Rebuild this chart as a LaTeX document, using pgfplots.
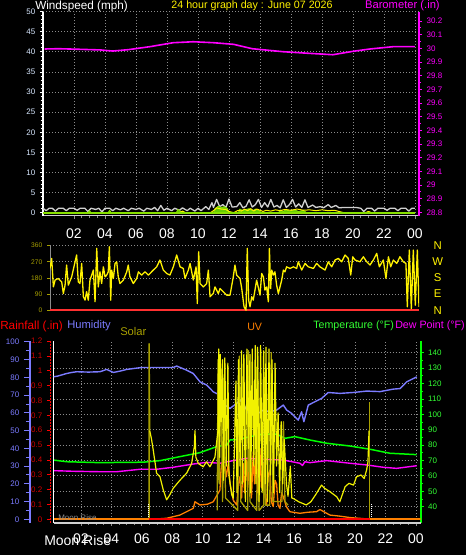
\documentclass[border=0pt]{standalone}
\usepackage{pgfplots}
\pgfplotsset{compat=1.18}
\usepackage{fontspec}
\setmainfont{Liberation Sans}
\definecolor{labblue}{HTML}{D8E8FF}
\definecolor{hum}{HTML}{7B7BFF}
\definecolor{tmp}{HTML}{00FF00}
\definecolor{tmplab}{HTML}{33FF33}
\definecolor{dew}{HTML}{FF00FF}
\definecolor{sol}{HTML}{F2F200}
\definecolor{olv}{HTML}{A8A000}
\definecolor{uv}{HTML}{FF8000}
\definecolor{rain}{HTML}{FF0000}
\definecolor{rainlab}{HTML}{D00000}
\definecolor{wwhite}{HTML}{D0D0D0}
\definecolor{wgreen}{HTML}{88E000}
\definecolor{wgfill}{HTML}{66CC00}
\definecolor{gridc}{HTML}{8C8C8C}
\definecolor{dirred}{HTML}{FF3030}
\def\P{0.75pt}
\pgfplotsset{
  base/.style={scale only axis, anchor=south west,
    /pgf/number format/assume math mode=true,
    tick label style={font=\fontsize{6}{7}\selectfont},
    tick align=outside,
    major grid style={gridc, dash pattern=on 1*\P off 2*\P, line width=0.8*\P},
    every axis plot/.append style={line join=round}},
}
\begin{document}
\begin{tikzpicture}
\fill[black] (0,0) rectangle (466*\P,555*\P);
\useasboundingbox (0,0) rectangle (466*\P,555*\P);

%================ TOP PANEL: windspeed =================
\begin{axis}[base, at={(43*\P,339.3*\P)}, width=376*\P, height=204*\P,
  xmin=0, xmax=24.26, ymin=-0.75, ymax=50,
  axis x line*=bottom, axis y line*=left,
  x axis line style={wwhite, line width=1.5*\P},
  y axis line style={white, line width=1.5*\P},
  xtick={2,4,6,8,10,12,14,16,18,20,22,24},
  xticklabels={02,04,06,08,10,12,14,16,18,20,22,00},
  ytick={0,5,...,50}, minor y tick num=4, minor x tick num=3,
  grid=major,
  xticklabel style={font=\fontsize{10.5}{12}\selectfont, white, anchor=center, yshift=-14.5*\P},
  yticklabel style={labblue},
  tick style={white, line width=0.8*\P}, major tick length=3*\P, minor tick length=2.5*\P,
  xtick style={gridc},
]
\addplot[wwhite, line width=1.3*\P] coordinates {
(0,1.1)(0.2,0.5)(0.4,1.1)(0.6,1.1)(0.8,0.4)(1.0,1.1)(1.3,1.1)(1.5,0.5)(1.7,1.1)(2.0,1.1)(2.2,0.6)(2.4,1.1)(2.7,1.1)(2.9,0.3)(3.1,1.1)(3.4,0.8)(3.6,1.1)(3.8,0.2)(4.0,1.1)(4.3,1.1)(4.5,0.5)(4.7,1.1)(5.0,0.7)(5.2,1.1)(5.5,0.5)(5.7,1.1)(6.0,0.8)(6.2,1.1)(6.5,0.4)(6.7,1.1)(7.0,0.8)(7.2,1.3)(7.4,0.5)(7.6,1.8)(7.8,0.6)(8.0,1.1)(8.3,0.5)(8.5,1.1)(8.8,0.6)(9.0,1.2)(9.3,0.5)(9.5,1.1)(9.8,0.4)(10.0,1.1)(10.2,0.5)(10.5,1.5)(10.7,0.8)(10.9,2.5)(11.0,1.3)(11.2,3.3)(11.4,1.5)(11.6,2.0)(11.8,1.3)(12.0,3.4)(12.2,1.4)(12.5,1.5)(12.7,2.5)(12.9,1.2)(13.1,1.6)(13.3,3.2)(13.5,1.4)(13.7,2.0)(13.9,3.3)(14.1,1.3)(14.3,2.5)(14.5,1.4)(14.7,3.3)(14.9,1.4)(15.1,1.8)(15.3,1.2)(15.5,3.2)(15.7,1.3)(15.9,2.0)(16.1,3.3)(16.3,1.4)(16.5,2.2)(16.7,1.3)(16.9,3.2)(17.1,1.3)(17.4,1.9)(17.6,1.3)(17.9,1.5)(18.1,1.2)(18.4,2.0)(18.6,1.3)(18.9,1.8)(19.1,1.2)(19.4,1.3)(19.8,1.3)(20.2,1.3)(20.5,1.1)(20.7,0.3)(20.9,1.1)(21.2,1.1)(21.4,0.4)(21.6,1.1)(22.0,1.1)(22.2,0.6)(22.4,1.1)(22.7,1.1)(22.9,0.5)(23.1,1.1)(23.4,1.1)(23.6,0.4)(23.8,1.1)(24,1.1)};
\addplot[wgreen, fill=wgfill, line width=0.8*\P] coordinates {
(0,0)(2.9,0)(3.0,0.5)(3.1,0)(4.2,0)(4.3,0.6)(4.4,0)(8.6,0)(8.7,0.8)(8.9,0.3)(9.0,0)(11.0,0)(11.1,1.0)(11.3,1.6)(11.5,1.3)(11.7,1.5)(11.9,1.0)(12.0,0)(12.6,0)(12.7,0.9)(12.9,0.5)(13.1,0.8)(13.3,1.0)(13.5,0.4)(13.7,0.9)(13.9,0.6)(14.1,0)(15.2,0)(15.3,0.7)(15.5,0.3)(15.7,0.8)(15.9,0.4)(16.2,0.7)(16.5,0.3)(16.8,0.6)(17.0,0)(24,0)} \closedcycle;
\addplot[yellow, line width=1*\P] coordinates {
(0,0)(8.8,0)(9.0,0.4)(9.2,0)(10.8,0)(11.0,0.5)(11.2,1.2)(11.5,0.9)(11.8,0.8)(12.0,0.3)(12.3,0)(12.6,0.6)(12.8,0.4)(13.0,0.9)(13.2,0.5)(13.4,1.0)(13.6,0.4)(13.8,0.9)(14.0,0.6)(14.2,0.3)(14.4,0.6)(14.7,0.4)(15.0,0.7)(15.3,0.5)(15.6,0.8)(16.0,0.6)(16.4,0.9)(16.8,0.6)(17.2,0.7)(17.6,0.5)(18.0,0.7)(18.4,0.5)(18.8,0.6)(19.2,0.2)(19.4,0)(20.8,0)(21.0,0.3)(21.2,0)(24,0)};
\addplot[wgreen, line width=2*\P] coordinates {(0,0)(24,0)};
\end{axis}

%================ TOP PANEL: barometer =================
\begin{axis}[base, at={(43*\P,339.3*\P)}, width=376*\P, height=204*\P,
  xmin=0, xmax=24.26, ymin=28.775, ymax=30.268,
  hide x axis, axis y line*=right,
  y axis line style={dew, line width=1.7*\P},
  ytick={28.8,28.9,29,29.1,29.2,29.3,29.4,29.5,29.6,29.7,29.8,29.9,30,30.1,30.2},
  yticklabels={28.8,28.9,29,29.1,29.2,29.3,29.4,29.5,29.6,29.7,29.8,29.9,30,30.1,30.2},
  minor y tick num=1,
  tick style={dew, line width=0.8*\P}, major tick length=3*\P, minor tick length=2*\P,
  yticklabel style={dew},
]
\addplot[dew, line width=1.6*\P] coordinates {
(0.1,29.995)(1.0,29.997)(2.0,29.994)(3.7,29.988)(4.5,29.98)(5.5,29.99)(6.9,30.012)(8.4,30.041)(9.7,30.048)(11.0,30.041)(12.3,30.029)(13.5,29.997)(15.5,29.975)(17.2,29.963)(18.7,29.953)(20.0,29.978)(21.1,29.995)(22.6,30.012)(24.0,30.012)};
\end{axis}

%================ MIDDLE PANEL: wind direction =================
\begin{axis}[base, at={(50*\P,243.9*\P)}, width=369*\P, height=66.3*\P,
  xmin=0, xmax=24, ymin=-5, ymax=365,
  hide x axis, axis y line*=left,
  y axis line style={gridc, line width=0.8*\P},
  ytick={0,90,180,270,360}, ymajorgrids,
  yticklabel style={olv, font=\fontsize{5}{6}\selectfont},
  tick style={olv, line width=0.8*\P}, major tick length=3*\P,
]
\addplot[dirred, line width=1.6*\P] coordinates {(0,0)(24,0)};
\addplot[yellow, line width=1.3*\P] coordinates {
(0.00,233)(0.11,289)(0.22,130)(0.33,168)(0.54,177)(0.76,158)(0.87,93)(0.98,140)(1.08,252)(1.19,140)(1.41,186)(1.63,270)(1.73,308)(1.84,158)(1.95,149)(2.06,261)(2.17,75)(2.28,56)(2.38,103)(2.49,56)(2.60,168)(2.82,224)(2.93,47)(3.04,345)(3.14,130)(3.25,214)(3.36,149)(3.47,242)(3.58,186)(3.69,196)(3.79,214)(3.86,354)(3.95,56)(4.01,224)(4.12,177)(4.23,261)(4.34,270)(4.44,186)(4.55,149)(4.77,168)(4.99,214)(5.09,252)(5.20,186)(5.42,149)(5.64,177)(5.75,214)(5.96,196)(6.18,214)(6.40,196)(6.72,224)(6.94,242)(7.15,280)(7.37,224)(7.59,205)(7.80,196)(8.02,242)(8.24,308)(8.46,242)(8.67,233)(8.78,177)(9.00,224)(9.11,261)(9.32,168)(9.50,242)(9.58,37)(9.67,326)(9.76,149)(9.97,130)(10.19,149)(10.30,224)(10.41,75)(10.62,93)(10.73,130)(10.95,93)(11.06,121)(11.27,103)(11.49,84)(11.71,84)(11.92,186)(12.03,252)(12.14,196)(12.36,177)(12.47,121)(12.62,19)(12.75,0)(12.83,345)(12.92,56)(13.01,19)(13.12,75)(13.22,56)(13.33,112)(13.44,168)(13.66,84)(13.77,205)(13.88,186)(13.98,112)(14.09,130)(14.20,47)(14.27,345)(14.35,121)(14.42,224)(14.53,196)(14.63,214)(14.74,140)(14.85,93)(15.07,168)(15.18,224)(15.28,214)(15.39,242)(15.61,233)(15.83,242)(16.04,233)(16.15,270)(16.37,224)(16.59,261)(16.80,242)(17.13,233)(17.34,261)(17.56,242)(17.89,224)(18.10,270)(18.32,242)(18.54,280)(18.75,289)(18.97,270)(19.19,308)(19.40,289)(19.56,196)(19.69,298)(19.84,280)(20.16,270)(20.38,298)(20.60,270)(20.81,252)(21.03,280)(21.25,317)(21.42,242)(21.68,280)(21.85,177)(22.01,298)(22.16,242)(22.33,280)(22.55,261)(22.76,298)(22.98,270)(23.15,261)(23.24,19)(23.37,336)(23.50,9)(23.63,336)(23.76,28)(23.89,336)(24.0,19)};
\end{axis}
\begin{axis}[base, at={(50*\P,243.9*\P)}, width=369*\P, height=66.3*\P,
  xmin=0, xmax=24, ymin=-5, ymax=365,
  hide x axis, axis y line*=right,
  y axis line style={draw=none}, tick style={draw=none},
  ytick={0,90,180,270,360}, yticklabels={N,E,S,W,N},
  yticklabel style={yellow, font=\fontsize{8.5}{10}\selectfont, anchor=center, xshift=13*\P},
]
\end{axis}

%================ BOTTOM PANEL =================
\begin{axis}[base, at={(53.5*\P,32.3*\P)}, width=367*\P, height=182*\P,
  xmin=0.2, xmax=24.3, ymin=29.6, ymax=147.8,
  axis x line*=bottom, axis y line*=right,
  x axis line style={draw=none}, xtick style={draw=none},
  xtick={2,4,6,8,10,12,14,16,18,20,22,24}, xticklabels={},
  ytick={40,50,...,140}, minor y tick num=1,
  grid=major,
  y axis line style={tmp, line width=2*\P},
  ytick style={tmp, line width=0.8*\P}, major tick length=3*\P, minor tick length=2*\P,
  yticklabel style={tmplab},
]
\addplot[tmp, line width=1.5*\P] coordinates {
(0.18,70.3)(1.06,69.2)(3.25,68.6)(6.1,68.9)(7.19,69.9)(8.5,72.5)(9.82,75.1)(10.91,79.0)(11.6,80.2)(11.79,83.3)(12.44,83.8)(13.1,85.5)(13.97,87.2)(14.85,87.2)(15.4,84.4)(16.05,85.5)(17.04,83.3)(18.14,81.2)(19.67,79.4)(20.98,77.3)(22.29,74.7)(24.05,73.8)};
\addplot[dew, line width=1.4*\P] coordinates {
(0.18,63.4)(1.5,63.0)(3.25,62.7)(4.35,62.7)(5.88,64.3)(6.97,64.3)(8.06,65.6)(9.38,67.7)(10.26,68.8)(11.13,68.2)(12.0,69.9)(12.88,71.4)(13.97,70.8)(15.29,70.3)(16.38,68.2)(16.55,66.8)(16.71,69.2)(17.04,68.6)(18.14,69.9)(19.67,68.2)(20.76,67.1)(21.85,65.6)(22.73,64.9)(24.05,66.6)};
\end{axis}

\begin{axis}[base, at={(53.5*\P,32.3*\P)}, width=367*\P, height=182*\P,
  xmin=0.2, xmax=24.3, ymin=-1.9, ymax=100.7,
  axis x line*=bottom, axis y line*=left,
  x axis line style={wwhite, line width=2*\P},
  y axis line style={white, line width=1.5*\P},
  ytick=\empty,
  xtick={2,4,6,8,10,12,14,16,18,20,22,24},
  xticklabels={02,04,06,08,10,12,14,16,18,20,22,00},
  minor x tick num=3,
  xtick style={gridc, line width=0.8*\P}, major tick length=3*\P, minor tick length=2*\P,
  xticklabel style={font=\fontsize{10.5}{12}\selectfont, white, anchor=center, yshift=-13*\P},
]
\addplot[hum, line width=1.4*\P] coordinates {
(0.18,80.3)(0.5,80.8)(1.06,82.2)(1.4,82.8)(1.72,83.2)(2.5,83.0)(3.25,83.2)(3.69,84.5)(4.13,82.8)(4.6,83.6)(5.0,84.5)(5.99,85.6)(8.06,85.6)(8.29,86.4)(8.94,84.1)(9.38,82.2)(9.82,77.5)(10.26,75.7)(10.69,71.9)(11.13,70.0)(11.46,64.4)(11.79,62.5)(12.23,65.4)(12.44,67.2)(12.66,65.4)(12.99,59.7)(13.32,58.8)(13.64,59.7)(13.97,61.6)(14.41,60.6)(14.85,61.6)(15.29,64.4)(15.51,61.6)(15.84,59.7)(16.27,55.9)(16.49,60.6)(16.64,55.0)(16.93,64.4)(17.37,66.3)(17.81,68.2)(18.24,71.5)(19.01,71.0)(19.88,71.5)(20.76,72.3)(21.64,72.0)(22.51,73.4)(22.95,73.7)(23.39,77.5)(24.05,80.3)};
\addplot[uv, line width=1.3*\P] coordinates {
(6.6,0)(7.63,0.6)(8.5,2.4)(9.38,6.2)(9.49,9.9)(9.82,8.1)(10.3,8.5)(10.69,9.9)(11.13,16.5)(11.2,28)(11.24,31.5)(11.35,26)(11.46,30)(11.55,24)(11.68,31.5)(11.79,20.3)(12.0,10.9)(12.23,8.1)(12.35,20)(12.44,24)(12.55,12)(12.66,31.5)(12.75,15)(12.88,33.4)(12.95,18)(13.1,37.2)(13.2,12)(13.32,38.1)(13.4,20)(13.53,39)(13.62,15)(13.75,40)(13.85,18)(13.97,31.5)(14.1,12)(14.19,8.1)(14.3,25)(14.41,27.8)(14.5,10)(14.63,7.2)(14.75,22)(14.85,20)(14.95,8)(15.07,6.2)(15.18,15)(15.29,12.7)(15.5,7)(15.72,4.3)(16.38,3.4)(16.9,4.0)(17.47,4.3)(17.7,5.5)(18.35,2.4)(19.0,1.8)(19.66,1.0)(20.98,0.1)(21.0,0)};
\addplot[olv, line width=1.3*\P] coordinates {
(6.48,0)(6.48,99)(6.52,50)};
\addplot[olv, line width=1.3*\P] coordinates {
(10.95,5)(11.0,90)(11.08,20)(11.2,85)(11.3,10)(11.4,60)(11.5,12)(12.3,5)(12.4,92)(12.5,10)(12.95,5)(13.0,95)(13.1,10)(13.55,5)(13.6,96)(13.7,5)(14.0,8)(14.05,80)(14.12,8)(14.4,8)(14.5,94)(14.6,10)(15.2,10)(15.3,55)(15.4,10)(15.6,8)};
\addplot[olv, line width=1.3*\P] coordinates {(20.95,0)(20.95,66)};
\addplot[sol, line width=1.2*\P] coordinates {
(6.52,50)(6.64,45)(6.75,39)(6.97,26)(7.19,24)(7.41,16.5)(7.63,11)(7.85,14)(8.06,17.5)(8.5,22)(8.94,26)(9.27,31.5)(9.45,41)(9.49,50)(9.55,35)(9.71,31.5)(10.03,29.6)(10.25,32.4)(10.47,29.6)(10.8,35)(11.0,50)(11.05,96)(11.1,35)(11.15,93)(11.22,55)(11.3,90)(11.36,22)(11.45,91)(11.55,30)(11.65,88)(11.72,25)(11.8,20)(11.9,14)(12.0,12)(12.1,48)(12.18,78)(12.25,15)(12.35,90)(12.45,30)(12.55,95)(12.6,20)(12.7,93)(12.8,10)(12.9,96)(13.0,40)(13.1,93)(13.15,15)(13.25,96)(13.35,30)(13.45,98)(13.5,20)(13.6,97)(13.7,10)(13.8,98)(13.9,15)(14.0,95)(14.1,20)(14.15,97)(14.25,10)(14.35,96)(14.45,25)(14.55,90)(14.65,15)(14.75,88)(14.85,30)(14.95,60)(15.05,15)(15.15,55)(15.25,20)(15.35,45)(15.5,20)(15.6,13)(15.75,30)(15.85,12)(15.94,11.8)(16.3,9.9)(16.8,8.1)(17.1,9.9)(17.4,13.7)(17.8,19.3)(18.0,17.5)(18.35,15.6)(18.8,12.7)(19.0,9.9)(19.35,18.4)(19.6,20.3)(19.9,19.3)(20.1,24)(20.4,25)(20.6,23)(20.76,27.8)(20.85,32.4)(20.92,50)};
\addplot[white, line width=0.8*\P, dash pattern=on 1*\P off 1*\P] coordinates {(6.42,0)(6.42,9)};
\addplot[white, line width=0.8*\P, dash pattern=on 1*\P off 1*\P] coordinates {(21.1,0)(21.1,9)};
\addplot[uv, line width=2*\P] coordinates {(0.2,0)(24.3,0)};
\addplot[rain, line width=2*\P] coordinates {(6.5,0)(21.0,0)};
\end{axis}

\begin{axis}[base, at={(30*\P,32.3*\P)}, width=1*\P, height=182*\P,
  xmin=0, xmax=1, ymin=-1.9, ymax=100.7,
  hide x axis, axis y line*=left,
  y axis line style={hum, line width=2.5*\P},
  ytick={0,10,...,100}, minor y tick num=1,
  tick style={hum, line width=1*\P}, major tick length=6*\P, minor tick length=4*\P,
  yticklabel style={hum},
]
\end{axis}
\begin{axis}[base, at={(50*\P,32.3*\P)}, width=1*\P, height=182*\P,
  xmin=0, xmax=1, ymin=-0.023, ymax=1.203,
  hide x axis, axis y line*=left,
  y axis line style={rain, line width=1*\P, dash pattern=on 1.5*\P off 1.5*\P},
  ytick={0,0.1,0.2,0.3,0.4,0.5,0.6,0.7,0.8,0.9,1,1.1,1.2},
  yticklabels={0,0.1,0.2,0.3,0.4,0.5,0.6,0.7,0.8,0.9,1,1.1,1.2},
  tick style={rain, line width=0.8*\P}, major tick length=3*\P,
  yticklabel style={rainlab},
]
\end{axis}

%================ TITLES =================
\begin{scope}[every node/.style={inner sep=0pt, font=\fontsize{8}{9.6}\selectfont}]
\node[anchor=west, white, font=\fontsize{8.8}{10}\selectfont] at (35*\P, 549*\P) {Windspeed (mph)};
\node[yellow] at (252*\P, 549*\P) {24 hour graph day : June 07 2026};
\node[anchor=east, dew, font=\fontsize{8.4}{10}\selectfont] at (440*\P, 549*\P) {Barometer (.in)};
\node[anchor=west, rain, font=\fontsize{8.8}{10}\selectfont] at (0*\P, 229*\P) {Rainfall (.in)};
\node[anchor=west, hum, font=\fontsize{8.4}{10}\selectfont] at (67*\P, 229*\P) {Humidity};
\node[anchor=west, olv, font=\fontsize{8.4}{10}\selectfont] at (120*\P, 223*\P) {Solar};
\node[anchor=west, uv] at (247*\P, 228*\P) {UV};
\node[anchor=west, tmplab] at (313*\P, 229*\P) {Temperature (°F)};
\node[anchor=east, dew] at (465*\P, 229*\P) {Dew Point (°F)};
\node[anchor=west, gridc, font=\fontsize{6}{7}\selectfont] at (58*\P, 37*\P) {Moon Rise};
\node[anchor=west, white, font=\fontsize{10.5}{12}\selectfont] at (44*\P, 15*\P) {Moon Rise};
\end{scope}
\end{tikzpicture}
\end{document}
